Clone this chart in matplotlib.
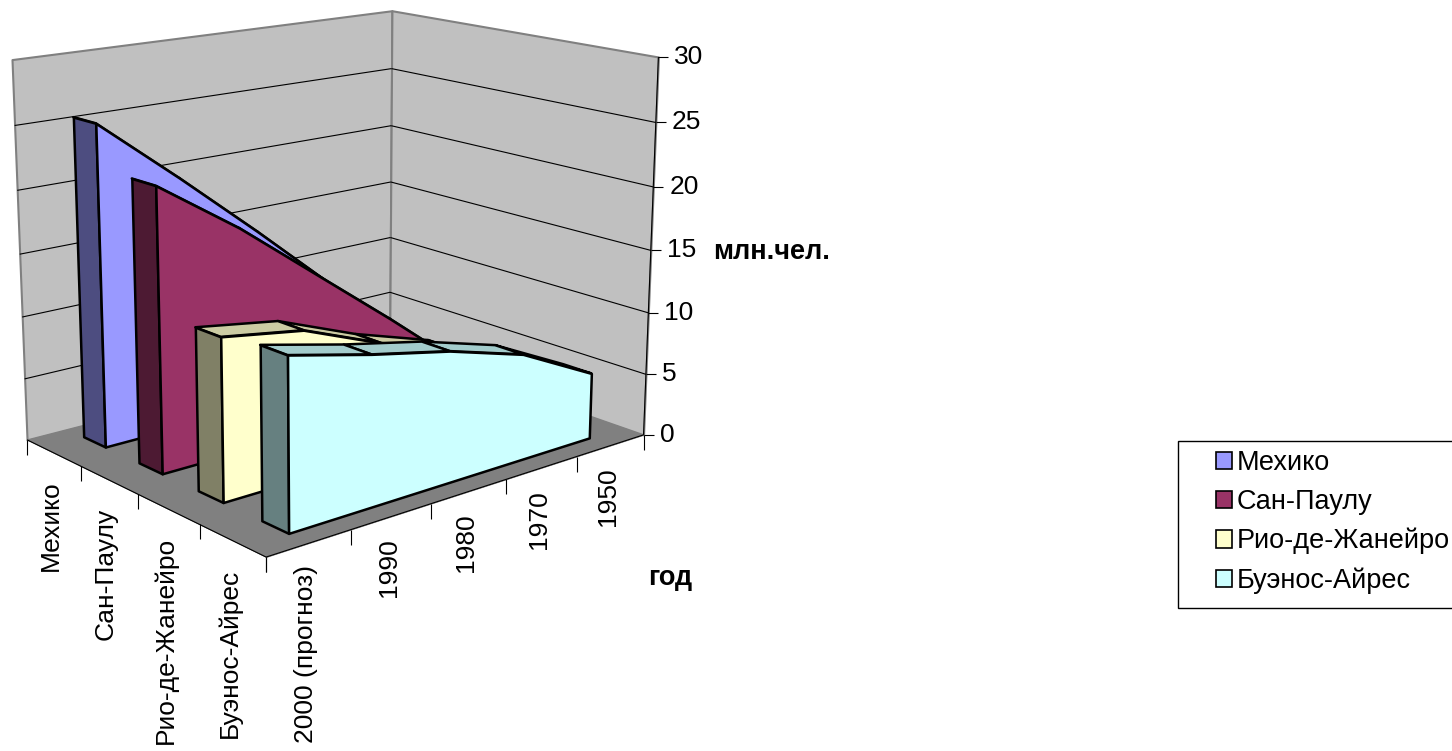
import numpy as np
import matplotlib
matplotlib.use('Agg')
import matplotlib.pyplot as plt
from matplotlib.path import Path
from matplotlib.patches import Patch, Rectangle
from matplotlib.transforms import IdentityTransform
from mpl_toolkits.mplot3d import proj3d
from mpl_toolkits.mplot3d.art3d import Poly3DCollection, Line3DCollection

plt.rcParams['font.family'] = ['Liberation Sans', 'DejaVu Sans']

# ---- data (million people) ----
years = ['2000 (прогноз)', '1990', '1980', '1970', '1950']
cities = ['Мехико', 'Сан-Паулу', 'Рио-де-Жанейро', 'Буэнос-Айрес']
mexico = [25.5, 20.2, 14.7, 9.0, 3.0]
sao_paulo = [22.1, 17.7, 12.7, 7.7, 2.5]
rio = [12.5, 11.5, 9.0, 7.0, 2.9]
buenos_aires = [13.0, 11.5, 10.2, 8.4, 5.3]
z_ticks = [0, 5, 10, 15, 20, 25, 30]

series = [mexico, sao_paulo, rio, buenos_aires]
colors = ['#9999FF', '#993366', '#FFFFCC', '#CCFFFF']

W, H = 1452, 751
FS = 19        # axis text
FS_LEG = 19.5  # legend and axis titles

fig = plt.figure(figsize=(W / 100, H / 100), dpi=100)


def shade(c, k):
    r, g, b = matplotlib.colors.to_rgb(c)
    return (r * k, g * k, b * k)


side0 = 700
ax = fig.add_axes([0.02, 0.02, side0 / W, side0 / H], projection='3d',
                  computed_zorder=False)
ax.set_proj_type('persp', focal_length=0.55)
ax.view_init(elev=15, azim=-40)
ax.set_box_aspect((0.92, 1.15, 0.915))
ax.set_axis_off()

nx, ny, zmax = len(cities), len(years), z_ticks[-1]
order = [0]


def add_poly(verts, fc, ec, lw):
    order[0] += 1
    pc = Poly3DCollection(verts, facecolors=fc, edgecolors=ec, linewidths=lw)
    pc.set_zorder(order[0])
    ax.add_collection3d(pc, autolim=False)


def add_lines(segs, color, lw):
    order[0] += 1
    lc = Line3DCollection(segs, colors=color, linewidths=lw)
    lc.set_zorder(order[0])
    ax.add_collection3d(lc, autolim=False)


# walls and floor
add_poly([[(0, 0, 0), (0, ny, 0), (0, ny, zmax), (0, 0, zmax)]], '#C0C0C0', '#808080', 1.5)
add_poly([[(0, ny, 0), (nx, ny, 0), (nx, ny, zmax), (0, ny, zmax)]], '#C0C0C0', '#808080', 1.5)
add_poly([[(0, 0, 0), (nx, 0, 0), (nx, ny, 0), (0, ny, 0)]], '#808080', '#808080', 0.5)

grid = []
for z in z_ticks[1:-1]:
    grid.append([(0, 0, z), (0, ny, z)])
    grid.append([(0, ny, z), (nx, ny, z)])
add_lines(grid, 'black', 0.8)

# axis lines on the floor and the value axis
add_lines([[(0, 0, 0), (nx, 0, 0)], [(nx, 0, 0), (nx, ny, 0)],
           [(nx, ny, 0), (nx, ny, zmax)]], 'black', 0.8)

tick_down = Path([(0, 0), (0, -1)])
tick_right = Path([(0, 0), (1, 0)])
ax.plot(np.arange(nx + 1), np.zeros(nx + 1), np.zeros(nx + 1), ls='none',
        marker=tick_down, ms=22, mec='black', mew=0.8, zorder=order[0])
ax.plot(np.full(ny + 1, nx), np.arange(ny + 1), np.zeros(ny + 1), ls='none',
        marker=tick_down, ms=22, mec='black', mew=0.8, zorder=order[0])
ax.plot(np.full(len(z_ticks), nx), np.full(len(z_ticks), ny), z_ticks, ls='none',
        marker=tick_right, ms=14, mec='black', mew=0.8, zorder=order[0])

# area slabs, back to front
ys = np.arange(ny) + 0.5
half = 0.2
for i, (vals, col) in enumerate(zip(series, colors)):
    xb, xf = i + 0.5 - half, i + 0.5 + half
    tops = []
    for j in range(ny - 1):
        tops.append([(xb, ys[j], vals[j]), (xb, ys[j + 1], vals[j + 1]),
                     (xf, ys[j + 1], vals[j + 1]), (xf, ys[j], vals[j])])
    add_poly(tops, shade(col, 0.8), 'black', 1.8)
    add_poly([[(xb, ys[0], 0), (xb, ys[0], vals[0]), (xf, ys[0], vals[0]),
               (xf, ys[0], 0)]], shade(col, 0.5), 'black', 1.8)
    front = [(xf, ys[0], 0)] + [(xf, y, v) for y, v in zip(ys, vals)] + [(xf, ys[-1], 0)]
    add_poly([front], col, 'black', 1.8)

ax.set_xlim(0, nx)
ax.set_ylim(0, ny)
ax.set_zlim(0, zmax)


def to_px(x, y, z):
    xs, ys_, _ = proj3d.proj_transform(np.atleast_1d(np.asarray(x, float)),
                                       np.atleast_1d(np.asarray(y, float)),
                                       np.atleast_1d(np.asarray(z, float)), ax.M)
    return ax.transData.transform(np.column_stack([xs, ys_]))


# fit the box onto the reference corners (pixel targets, y from top)
corners = [(0, 0, 0), (0, 0, zmax), (nx, ny, 0), (nx, ny, zmax),
           (0, ny, zmax), (nx, 0, 0)]
targets = np.array([(28, 440), (12, 58), (644, 436), (658, 57),
                    (390, 11), (267, 557)], float)
targets[:, 1] = H - targets[:, 1]

fig.canvas.draw()
pos = ax.get_position()
c0 = np.array([(pos.x0 + pos.x1) / 2 * W, (pos.y0 + pos.y1) / 2 * H])
p = np.vstack([to_px(*c) for c in corners]) - c0
dm, qm = p.mean(0), targets.mean(0)
s = np.sum((p - dm) * (targets - qm)) / np.sum((p - dm) ** 2)
t = qm - s * dm
side = side0 * s
ax.set_position([(t[0] - side / 2) / W, (t[1] - side / 2) / H, side / W, side / H])
fig.canvas.draw()

ident = IdentityTransform()
for i, name in enumerate(cities):
    px, py = to_px(i + 0.5, 0, 0)[0]
    fig.text(px - 3, py - 28, name, rotation=90, ha='center', va='top',
             fontsize=FS, transform=ident)
for j, name in enumerate(years):
    px, py = to_px(nx, j + 0.5, 0)[0]
    fig.text(px - 3, py - 22, name, rotation=90, ha='center', va='top',
             fontsize=FS, transform=ident)
for z in z_ticks:
    px, py = to_px(nx, ny, z)[0]
    fig.text(px + 16, py, str(z), ha='left', va='center', fontsize=FS,
             transform=ident)

fig.text(713, H - 252, 'млн.чел.', fontsize=FS_LEG, fontweight='bold',
         ha='left', va='center', transform=ident)
fig.text(648, H - 578, 'год', fontsize=FS_LEG, fontweight='bold',
         ha='left', va='center', transform=ident)

# legend: frame drawn separately (it runs off the right edge)
fig.add_artist(Rectangle((1178 / W, 1 - 608 / H), 300 / W, 167 / H,
                         transform=fig.transFigure, facecolor='white',
                         edgecolor='black', linewidth=1.0))
handles = [Patch(facecolor=c, edgecolor='black', linewidth=1.2) for c in colors]
fig.legend(handles, cities, loc='upper left',
           bbox_to_anchor=(1216 / W, 1 - 450 / H), fontsize=FS_LEG,
           frameon=False, handlelength=0.6, handleheight=0.6,
           handletextpad=0.15, labelspacing=0.48, borderpad=0,
           borderaxespad=0)

fig.savefig('out.png', dpi=100)
